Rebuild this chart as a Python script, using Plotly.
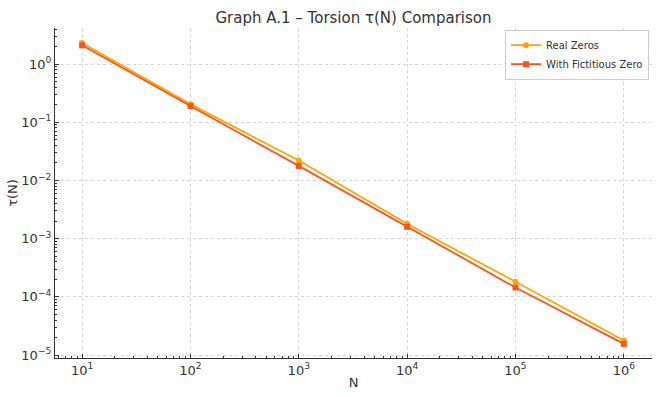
import plotly.graph_objects as go

N = [1e1, 1e2, 1e3, 1e4, 1e5, 1e6]
tau_real = [2.3, 0.205, 0.022, 0.0018, 0.000182, 1.78e-5]
tau_fict = [2.1, 0.19, 0.0178, 0.0016, 0.000145, 1.56e-5]

x_tickvals = [1e1, 1e2, 1e3, 1e4, 1e5, 1e6]
x_ticktext = ["10<sup>1</sup>", "10<sup>2</sup>", "10<sup>3</sup>", "10<sup>4</sup>", "10<sup>5</sup>", "10<sup>6</sup>"]
y_tickvals = [1e0, 1e-1, 1e-2, 1e-3, 1e-4, 1e-5]
y_ticktext = ["10<sup>0</sup>", "10<sup>−1</sup>", "10<sup>−2</sup>", "10<sup>−3</sup>", "10<sup>−4</sup>", "10<sup>−5</sup>"]

x_minor = [m * 10 ** k for k in range(0, 7) for m in range(2, 10)]
y_minor = [m * 10 ** k for k in range(-6, 1) for m in range(2, 10)]

fig = go.Figure()
fig.add_trace(go.Scatter(x=N, y=tau_real, mode="lines+markers", name="Real Zeros",
                         line=dict(color="#FFA500", width=1.8),
                         marker=dict(symbol="circle", size=6, color="#FFA500")))
fig.add_trace(go.Scatter(x=N, y=tau_fict, mode="lines+markers", name="With Fictitious Zero",
                         line=dict(color="#F4561E", width=1.8),
                         marker=dict(symbol="square", size=6, color="#F4561E")))

axis_common = dict(
    showline=True, linecolor="#333", linewidth=1.2,
    ticks="inside", ticklen=4, tickcolor="#333",
    showgrid=True, gridcolor="#d5d5d5", griddash="dot", gridwidth=1,
    zeroline=False, tickfont=dict(size=13, color="#333"), automargin=False,
)

fig.update_xaxes(type="log", range=[0.75, 6.26], tickmode="array",
                 tickvals=x_tickvals, ticktext=x_ticktext,
                 title=dict(text="N", font=dict(size=13, color="#333"), standoff=1),
                 minor=dict(ticks="inside", ticklen=2, tickcolor="#333", tickvals=x_minor, showgrid=False),
                 **axis_common)
fig.update_yaxes(type="log", range=[-5.05, 0.62], tickmode="array",
                 tickvals=y_tickvals, ticktext=y_ticktext,
                 title=dict(text="τ(N)", font=dict(size=13, color="#333"), standoff=0),
                 minor=dict(ticks="inside", ticklen=2, tickcolor="#333", tickvals=y_minor, showgrid=False),
                 **axis_common)

fig.update_layout(
    width=661, height=396,
    margin=dict(l=55, r=9, t=28, b=38),
    paper_bgcolor="white", plot_bgcolor="white",
    font=dict(family="DejaVu Sans", color="#333"),
    title=dict(text="Graph A.1 – Torsion τ(N) Comparison", x=0.5, xref="paper", xanchor="center",
               y=0.955, yanchor="middle", font=dict(size=15, color="#333"), automargin=False),
    legend=dict(x=0.995, y=0.995, xanchor="right", yanchor="top",
                bgcolor="rgba(255,255,255,0.9)", bordercolor="#ccc", borderwidth=1,
                font=dict(size=10, color="#333"), tracegroupgap=0, itemwidth=30),
    showlegend=True,
)

fig.write_html("out.html", config={"displayModeBar": False},
               post_script="document.body.style.margin='0';document.body.style.overflow='hidden';")
